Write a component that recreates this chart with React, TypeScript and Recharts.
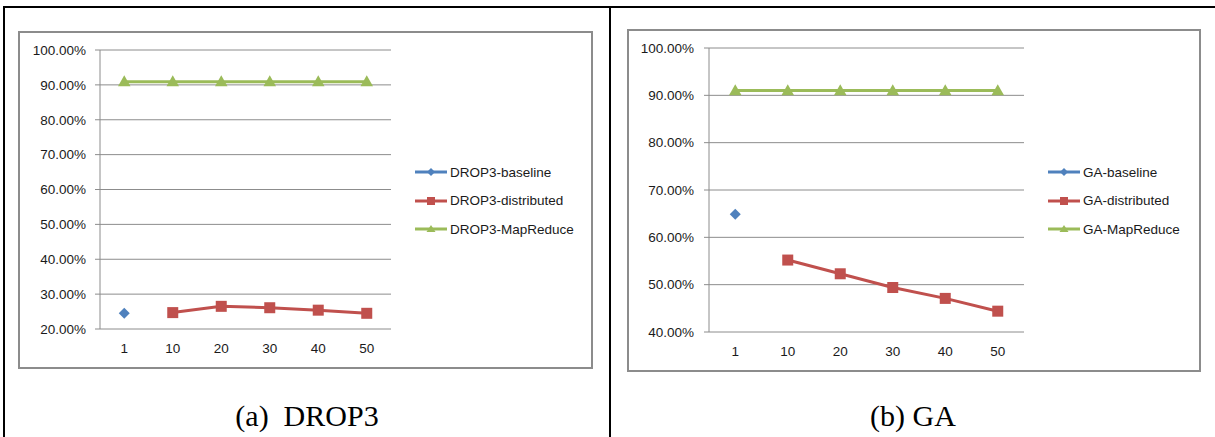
import React from 'react';
import { LineChart, Line, XAxis, YAxis, CartesianGrid, Legend } from 'recharts';

const categories = ['1', '10', '20', '30', '40', '50'];

const drop3Baseline = [0.245, null, null, null, null, null];
const drop3Distributed = [null, 0.247, 0.265, 0.261, 0.254, 0.245];
const drop3MapReduce = [0.909, 0.909, 0.909, 0.909, 0.909, 0.909];

const gaBaseline = [0.649, null, null, null, null, null];
const gaDistributed = [null, 0.552, 0.523, 0.494, 0.471, 0.444];
const gaMapReduce = [0.910, 0.910, 0.910, 0.910, 0.910, 0.910];

const drop3Ticks = [0.2, 0.3, 0.4, 0.5, 0.6, 0.7, 0.8, 0.9, 1.0];
const gaTicks = [0.4, 0.5, 0.6, 0.7, 0.8, 0.9, 1.0];

const drop3Names = ['DROP3-baseline', 'DROP3-distributed', 'DROP3-MapReduce'];
const gaNames = ['GA-baseline', 'GA-distributed', 'GA-MapReduce'];

const seriesKeys = ['baseline', 'distributed', 'mapreduce'];

const BLUE = '#4F81BD';
const RED = '#C0504D';
const GREEN = '#9BBB59';
const GRID = '#8c8c8c';
const FONT = '"Liberation Sans", Arial, sans-serif';

const centerTicks = categories.map((_, i) => i + 1);
const boundaryTicks = categories.map((_, i) => i + 0.5).concat(categories.length + 0.5);

const buildData = (b: (number | null)[], d: (number | null)[], m: (number | null)[]) =>
  categories.map((c, i) => ({ idx: i + 1, label: c, baseline: b[i], distributed: d[i], mapreduce: m[i] }));

const drop3Data = buildData(drop3Baseline, drop3Distributed, drop3MapReduce);
const gaData = buildData(gaBaseline, gaDistributed, gaMapReduce);

const ok = (cx: any, cy: any) => cx != null && cy != null && isFinite(cx) && isFinite(cy);

const diamondPath = (cx: number, cy: number, r: number) =>
  `M${cx},${cy - r}L${cx + r},${cy}L${cx},${cy + r}L${cx - r},${cy}Z`;
const trianglePath = (cx: number, cy: number, w: number, h: number) =>
  `M${cx},${cy - h * 0.58}L${cx + w / 2},${cy + h * 0.42}L${cx - w / 2},${cy + h * 0.42}Z`;

const DiamondDot = (p: any) => {
  if (!ok(p.cx, p.cy)) return <g key={p.index} />;
  return <path key={p.index} d={diamondPath(p.cx, p.cy, 5.5)} fill={BLUE} />;
};
const SquareDot = (p: any) => {
  if (!ok(p.cx, p.cy)) return <g key={p.index} />;
  return <rect key={p.index} x={p.cx - 5.5} y={p.cy - 5.5} width={11} height={11} fill={RED} />;
};
const TriangleDot = (p: any) => {
  if (!ok(p.cx, p.cy)) return <g key={p.index} />;
  return <path key={p.index} d={trianglePath(p.cx, p.cy, 12.5, 11)} fill={GREEN} />;
};

const legendMarker = (key: string) => {
  if (key === 'baseline') return <g><line x1={0} y1={6} x2={32} y2={6} stroke={BLUE} strokeWidth={3} /><path d={diamondPath(16, 6, 4)} fill={BLUE} /></g>;
  if (key === 'distributed') return <g><line x1={0} y1={6} x2={32} y2={6} stroke={RED} strokeWidth={3} /><rect x={12} y={2} width={8} height={8} fill={RED} /></g>;
  return <g><line x1={0} y1={6} x2={32} y2={6} stroke={GREEN} strokeWidth={3} /><path d={trianglePath(16, 6, 9, 7)} fill={GREEN} /></g>;
};

const renderLegend = (props: any) => {
  const payload = [...(props.payload || [])].sort(
    (a: any, b: any) => seriesKeys.indexOf(a.dataKey) - seriesKeys.indexOf(b.dataKey)
  );
  return (
    <div style={{ fontFamily: FONT, fontSize: 13.5, color: '#1a1a1a' }}>
      {payload.map((entry: any, i: number) => (
        <div key={i} style={{ display: 'flex', alignItems: 'center', height: 28.5, whiteSpace: 'nowrap' }}>
          <svg width={33} height={12} style={{ display: 'block' }}>{legendMarker(entry.dataKey)}</svg>
          <span style={{ marginLeft: 2 }}>{entry.value}</span>
        </div>
      ))}
    </div>
  );
};

const pct = (v: number) => (v * 100).toFixed(2) + '%';
const tickStyle = { fontFamily: FONT, fontSize: 13.5, fill: '#1a1a1a' };

type PanelProps = {
  data: any[];
  names: string[];
  ticks: number[];
  width: number;
  height: number;
  right: number;
  legendLeft: number;
  legendTop: number;
  tickMargin: number;
};

const Panel = ({ data, names, ticks, width, height, right, legendLeft, legendTop, tickMargin }: PanelProps) => (
  <LineChart width={width} height={height} data={data} margin={{ top: 18, right, bottom: 0, left: 0 }}>
    <CartesianGrid vertical={false} stroke={GRID} strokeWidth={1} />
    <XAxis
      xAxisId="marks"
      type="number"
      dataKey="idx"
      domain={[0.5, categories.length + 0.5]}
      ticks={boundaryTicks}
      tick={false}
      height={0}
      tickSize={5}
      stroke={GRID}
      allowDataOverflow
    />
    <XAxis
      xAxisId="labels"
      type="number"
      dataKey="idx"
      domain={[0.5, categories.length + 0.5]}
      ticks={centerTicks}
      tickFormatter={(v: number) => categories[v - 1]}
      axisLine={false}
      tickLine={false}
      tickSize={5}
      tickMargin={9}
      tick={tickStyle}
      height={39}
      interval={0}
      allowDataOverflow
    />
    <YAxis
      type="number"
      domain={[ticks[0], ticks[ticks.length - 1]]}
      ticks={ticks}
      tickFormatter={pct}
      width={81}
      tickSize={5}
      tickMargin={tickMargin}
      stroke={GRID}
      tick={tickStyle}
      interval={0}
      allowDataOverflow
    />
    <Legend
      layout="vertical"
      align="center"
      verticalAlign="middle"
      wrapperStyle={{ left: legendLeft, top: legendTop, width: 'auto' }}
      content={renderLegend}
    />
    <Line xAxisId="labels" dataKey="baseline" name={names[0]} stroke={BLUE} strokeWidth={3} dot={DiamondDot} isAnimationActive={false} />
    <Line xAxisId="labels" dataKey="distributed" name={names[1]} stroke={RED} strokeWidth={3} dot={SquareDot} isAnimationActive={false} />
    <Line xAxisId="labels" dataKey="mapreduce" name={names[2]} stroke={GREEN} strokeWidth={3} dot={TriangleDot} isAnimationActive={false} />
  </LineChart>
);

const abs = (left: number, top: number, extra: any = {}) => ({ position: 'absolute' as const, left, top, ...extra });

export default function App() {
  return (
    <div style={{ position: 'absolute', left: 0, top: 0, width: 1215, height: 437, background: '#fff', overflow: 'hidden' }}>
      {/* table borders */}
      <div style={abs(3, 6, { width: 1212, height: 2, background: '#000' })} />
      <div style={abs(3, 6, { width: 2, height: 431, background: '#000' })} />
      <div style={abs(609, 6, { width: 2, height: 431, background: '#000' })} />

      {/* chart frames */}
      <div style={abs(18, 31, { width: 575, height: 338, border: '2px solid #8c8c8c', boxSizing: 'border-box' })} />
      <div style={abs(627, 29, { width: 574, height: 343, border: '2px solid #8c8c8c', boxSizing: 'border-box' })} />

      <div style={abs(19, 32)}>
        <Panel data={drop3Data} names={drop3Names} ticks={drop3Ticks} width={573} height={336} right={201}
          legendLeft={396} legendTop={126} tickMargin={9} />
      </div>
      <div style={abs(628, 30)}>
        <Panel data={gaData} names={gaNames} ticks={gaTicks} width={572} height={341} right={176}
          legendLeft={420} legendTop={128} tickMargin={10} />
      </div>

      {/* captions */}
      <div style={abs(5, 399, { width: 604, textAlign: 'center', fontFamily: '"Liberation Serif", "Times New Roman", serif', fontSize: 30, whiteSpace: 'pre', color: '#000' })}>
        {'(a)  DROP3'}
      </div>
      <div style={abs(611, 399, { width: 604, textAlign: 'center', fontFamily: '"Liberation Serif", "Times New Roman", serif', fontSize: 30, whiteSpace: 'pre', color: '#000' })}>
        {'(b) GA'}
      </div>
    </div>
  );
}
